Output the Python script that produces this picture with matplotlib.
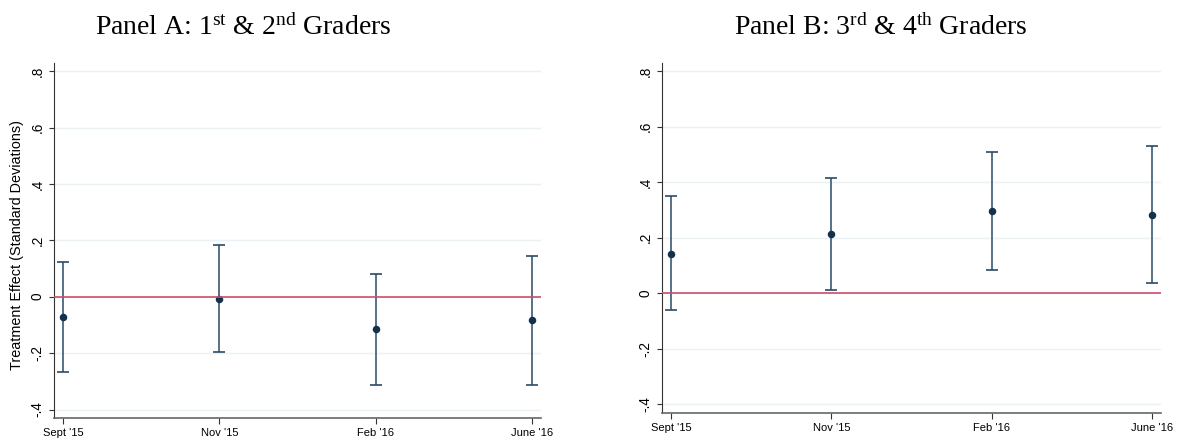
import matplotlib
matplotlib.use("Agg")
import matplotlib.pyplot as plt

plt.rcParams['font.family'] = ['Liberation Sans', 'DejaVu Sans']
plt.rcParams['mathtext.fontset'] = 'custom'
plt.rcParams['mathtext.rm'] = 'Liberation Serif'
plt.rcParams['mathtext.it'] = 'Liberation Serif:italic'

# data
waves = ["Sept '15", "Nov '15", "Feb '16", "June '16"]

a_est = [-0.073, -0.008, -0.115, -0.084]
a_lo = [-0.266, -0.197, -0.313, -0.313]
a_hi = [0.123, 0.183, 0.082, 0.146]

b_est = [0.143, 0.213, 0.297, 0.283]
b_lo = [-0.061, 0.013, 0.083, 0.037]
b_hi = [0.349, 0.416, 0.510, 0.531]

yticks = [-0.4, -0.2, 0, 0.2, 0.4, 0.6, 0.8]
ylabels = ['-.4', '-.2', '0', '.2', '.4', '.6', '.8']

fig = plt.figure(figsize=(11.81, 4.46), dpi=100)
W, H = 1181, 446


def panel(rect, est, lo, hi):
    ax = fig.add_axes(rect)
    x = list(range(len(waves)))
    err = [[e - l for e, l in zip(est, lo)], [h - e for e, h in zip(est, hi)]]
    ax.errorbar(x, est, yerr=err, fmt='o', color='#13304d', ms=4.4,
                ecolor='#2b4a66', elinewidth=1.1, capsize=4.6, capthick=1.2, zorder=2)
    ax.axhline(0, color='#c9506c', lw=1.2, zorder=3)
    ax.set_xlim(-0.057, 3.055)
    ax.set_ylim(-0.43, 0.83)
    ax.set_xticks(x)
    ax.set_xticklabels(waves, fontsize=8)
    ax.set_yticks(yticks)
    ax.set_yticklabels(ylabels, fontsize=9.8, rotation=90, va='center')
    ax.grid(axis='y', color='#eaf2f3', lw=1)
    ax.set_axisbelow(True)
    for s in ['top', 'right']:
        ax.spines[s].set_visible(False)
    ax.spines['left'].set_color('#333333')
    ax.spines['bottom'].set_color('#666666')
    ax.spines['bottom'].set_linewidth(1.2)
    ax.tick_params(axis='x', length=4.3, width=0.8, color='#333333', pad=3)
    ax.tick_params(axis='y', length=3.4, width=0.8, color='#333333', pad=3.5)
    return ax


axA = panel([54 / W, 1 - 418 / H, 487 / W, 355.3 / H], a_est, a_lo, a_hi)
axB = panel([662 / W, 1 - 412.7 / H, 499 / W, 350 / H], b_est, b_lo, b_hi)

fig.text(17 / W, 1 - 245 / H, 'Treatment Effect (Standard Deviations)',
         rotation=90, ha='center', va='center', fontsize=10.4)

fig.text(243.5 / W, 1 - 35 / H, r'Panel A: $1^{\mathrm{st}}$ & $2^{\mathrm{nd}}$ Graders',
         ha='center', va='baseline', fontsize=20, family='Liberation Serif')
fig.text(881 / W, 1 - 35 / H, r'Panel B: $3^{\mathrm{rd}}$ & $4^{\mathrm{th}}$ Graders',
         ha='center', va='baseline', fontsize=20, family='Liberation Serif')

fig.savefig('out.png', dpi=100)
